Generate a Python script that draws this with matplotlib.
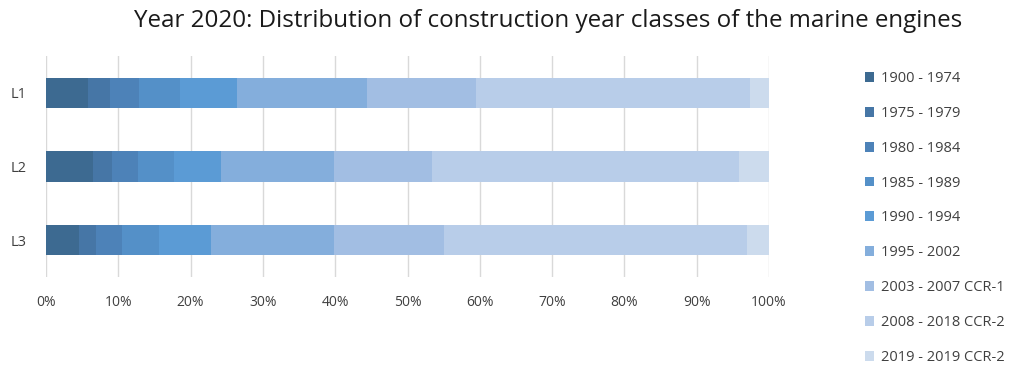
import numpy as np
import matplotlib
matplotlib.use("Agg")
import matplotlib.pyplot as plt
from matplotlib.ticker import PercentFormatter

plt.rcParams['font.family'] = ['Open Sans', 'DejaVu Sans']

# shares per construction year class, in percent
lines = ["L1", "L2", "L3"]
classes = ["1900 - 1974", "1975 - 1979", "1980 - 1984", "1985 - 1989",
           "1990 - 1994", "1995 - 2002", "2003 - 2007 CCR-1",
           "2008 - 2018 CCR-2", "2019 - 2019 CCR-2"]
shares = {
    "L1": [5.85, 3.0, 4.05, 5.7, 7.8, 18.0, 15.1, 37.9, 2.6],
    "L2": [6.5, 2.65, 3.55, 4.95, 6.55, 15.6, 13.6, 42.45, 4.15],
    "L3": [4.6, 2.3, 3.65, 5.05, 7.2, 17.1, 15.1, 41.95, 3.05],
}
colors = ["#3d6a91", "#4676a6", "#4d82b8", "#5490c8", "#5b9bd5",
          "#84aedc", "#a2bee3", "#b8cde9", "#ccdbed"]

fig = plt.figure(figsize=(10.22, 3.69), dpi=100)
ax = fig.add_axes([0.045, 0.249, 0.7075, 0.599])

data = np.array([shares[l] for l in lines])
left = np.zeros(len(lines))
ypos = np.arange(len(lines))
for i, cls in enumerate(classes):
    ax.barh(ypos, data[:, i], left=left, height=0.41, color=colors[i],
            label=cls, zorder=3)
    left += data[:, i]

ax.set_xlim(0, 100)
ax.set_ylim(2.5, -0.5)
ax.set_xticks(np.arange(0, 101, 10))
ax.xaxis.set_major_formatter(PercentFormatter(decimals=0))
ax.set_yticks(ypos)
ax.set_yticklabels(lines)
ax.grid(axis='x', color='#d9d9d9', linewidth=1, zorder=0)
for s in ax.spines.values():
    s.set_visible(False)
ax.tick_params(length=0, labelsize=10, colors='#404040')
ax.tick_params(axis='y', labelsize=10.5)
ax.tick_params(axis='x', pad=13)
ax.tick_params(axis='y', pad=14)

fig.text(0.536, 0.943, "Year 2020: Distribution of construction year classes of the marine engines",
         ha='center', va='center', fontsize=17.4, color='#1a1a1a')

leg = fig.legend(loc='upper left', bbox_to_anchor=(0.8405, 0.823), frameon=False,
                 fontsize=10.5, handlelength=0.65, handleheight=0.65, handletextpad=0.45,
                 labelspacing=1.36, labelcolor='#404040', borderaxespad=0)

fig.savefig("out.png", dpi=100)
